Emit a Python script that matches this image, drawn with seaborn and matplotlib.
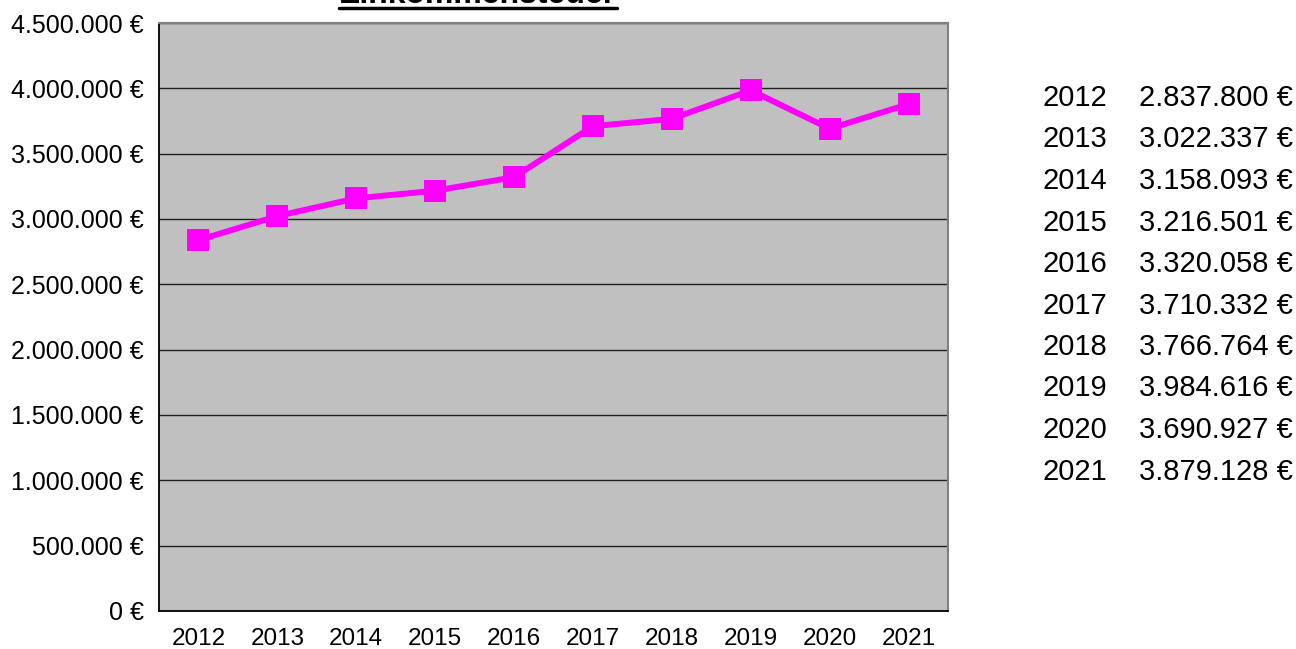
import numpy as np
import pandas as pd
import matplotlib
matplotlib.use("Agg")
import matplotlib.pyplot as plt
from matplotlib.ticker import FixedLocator, FuncFormatter
from matplotlib.lines import Line2D
import seaborn as sns

years = [2012, 2013, 2014, 2015, 2016, 2017, 2018, 2019, 2020, 2021]
einkommensteuer = [2837800, 3022337, 3158093, 3216501, 3320058,
                   3710332, 3766764, 3984616, 3690927, 3879128]
y_ticks = [0, 500000, 1000000, 1500000, 2000000, 2500000,
           3000000, 3500000, 4000000, 4500000]
title = "Einkommensteuer"


def euro(v):
    return f"{int(v):,}".replace(",", ".") + " €"


sns.set_style("white")
plt.rcParams['font.family'] = ['Liberation Sans', 'DejaVu Sans']
plt.rcParams['text.color'] = 'black'
plt.rcParams['xtick.labelcolor'] = 'black'
plt.rcParams['ytick.labelcolor'] = 'black'

df = pd.DataFrame({"pos": np.arange(len(years)), "wert": einkommensteuer})

fig = plt.figure(figsize=(12.96, 6.49), dpi=100)
ax = fig.add_axes([159 / 1296, 1 - 611 / 649, (948 - 159) / 1296, (611 - 23) / 649])
ax.set_facecolor("#C0C0C0")

sns.lineplot(data=df, x="pos", y="wert", ax=ax, color="#FF00FF", linewidth=4.3,
             marker="s", markersize=16, markeredgewidth=0, zorder=3)

ax.set_xlim(-0.5, len(years) - 0.5)
ax.set_ylim(0, 4500000)
ax.yaxis.set_major_locator(FixedLocator(y_ticks))
ax.yaxis.set_major_formatter(FuncFormatter(lambda v, p: euro(v)))
ax.grid(axis="y", color="#202020", linewidth=1)
ax.set_axisbelow(True)

# category boundaries as major ticks, labels on minor ticks at the centres
ax.xaxis.set_major_locator(FixedLocator(np.arange(len(years) + 1) - 0.5))
ax.xaxis.set_major_formatter(FuncFormatter(lambda v, p: ""))
ax.xaxis.set_minor_locator(FixedLocator(np.arange(len(years))))
ax.set_xticklabels([str(y) for y in years], minor=True)
ax.tick_params(axis="x", which="major", direction="out", length=8, width=1, color="black")
ax.tick_params(axis="x", which="minor", length=0, labelsize=17.5, pad=12)
ax.tick_params(axis="y", direction="out", length=8, width=1, color="black", labelsize=18, pad=3)
ax.set_xlabel("")
ax.set_ylabel("")

for side in ["left", "bottom"]:
    ax.spines[side].set_color("black")
    ax.spines[side].set_linewidth(1.3)
for side in ["top", "right"]:
    ax.spines[side].set_color("#808080")
    ax.spines[side].set_linewidth(1.5)

# title, cut off at the top edge as in the original
t = fig.text(478 / 1296, 1 - 3 / 649, title, ha="center", va="baseline",
             fontsize=23, fontweight="bold")
fig.canvas.draw()
bb = t.get_window_extent(fig.canvas.get_renderer())
uy = 1 - 8 / 649
fig.add_artist(Line2D([bb.x0 / 1296, bb.x1 / 1296], [uy, uy],
                      transform=fig.transFigure, color="black", linewidth=2.5))

# value table on the right
row0, step = 98, 41.5
for i, (yr, val) in enumerate(zip(years, einkommensteuer)):
    ypix = row0 + i * step
    fig.text(1042 / 1296, 1 - ypix / 649, str(yr), ha="left", va="center", fontsize=21)
    fig.text(1293 / 1296, 1 - ypix / 649, euro(val), ha="right", va="center", fontsize=21)

fig.savefig("out.png", dpi=100)
